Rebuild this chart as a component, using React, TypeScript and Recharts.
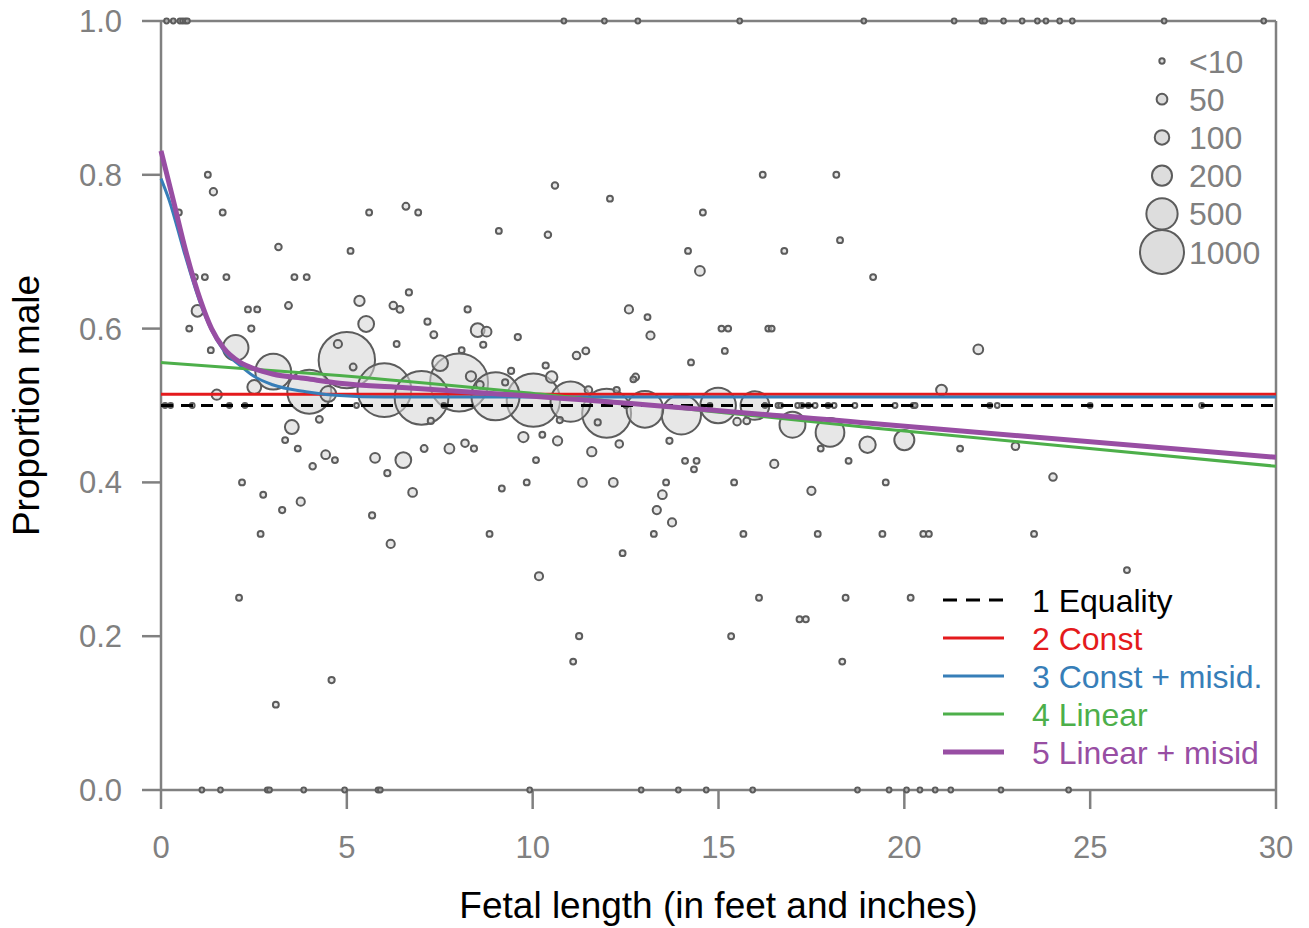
import { ComposedChart, Scatter, Line, XAxis, YAxis, ReferenceLine } from "recharts"

const W = 1309
const H = 928

const GREY = "#808080"
const RED = "#e41a1c"
const BLUE = "#377eb8"
const GREEN = "#4daf4a"
const PURPLE = "#984ea3"

const xTicks = [0, 5, 10, 15, 20, 25, 30]
const yTicks = [0, 0.2, 0.4, 0.6, 0.8, 1.0]

// single specimens sitting at proportion 1, 0 and 0.5
const allMaleX = [0.15, 0.33, 0.51, 0.58, 0.65, 0.71, 10.84, 11.93, 12.83, 15.57, 18.91, 21.34, 22.09, 22.16, 22.67, 23.17, 23.58, 23.81, 24.18, 24.52, 26.99, 29.67]
const allFemaleX = [1.1, 1.6, 2.86, 2.92, 3.84, 4.94, 5.84, 5.9, 9.92, 12.92, 13.92, 14.67, 15.92, 18.74, 19.59, 20.06, 20.42, 20.83, 21.25, 22.6, 24.42]
const halfX = [0.11, 0.26, 0.84, 1.84, 2.26, 5.26, 7.61, 12.51, 14.77, 16.25, 16.6, 16.67, 17.13, 17.24, 17.42, 17.6, 17.95, 18.11, 18.67, 19.75, 20.24, 20.29, 22.3, 22.5, 25.0, 28.0]

// [length, proportion male, n]
const samples: [number, number, number][] = [
  [0.48, 0.751, 8], [1.26, 0.8, 8], [1.41, 0.778, 18], [1.66, 0.751, 8], [3.16, 0.706, 12],
  [5.1, 0.701, 8], [5.6, 0.751, 8], [6.59, 0.759, 15], [6.92, 0.751, 8], [9.09, 0.727, 8],
  [10.41, 0.722, 12], [10.6, 0.786, 12], [12.08, 0.769, 8], [14.18, 0.701, 8], [14.58, 0.751, 8],
  [16.19, 0.8, 8], [16.77, 0.701, 8], [18.17, 0.8, 8], [18.27, 0.715, 8], [14.5, 0.675, 40],
  [19.16, 0.667, 8],
  [0.98, 0.623, 60], [0.91, 0.667, 8], [1.18, 0.667, 8], [1.76, 0.667, 8], [0.76, 0.6, 8],
  [1.34, 0.572, 8], [2.01, 0.575, 330], [1.5, 0.514, 45], [2.34, 0.625, 8], [2.59, 0.625, 8],
  [2.43, 0.6, 10], [3.43, 0.63, 15], [3.59, 0.667, 8], [3.92, 0.667, 8], [3.02, 0.544, 660],
  [2.51, 0.524, 90], [3.99, 0.518, 1000], [3.52, 0.472, 90], [4.26, 0.482, 15], [4.5, 0.515, 120],
  [3.34, 0.455, 8], [3.68, 0.444, 8], [4.08, 0.421, 12], [4.43, 0.436, 30], [4.68, 0.429, 8],
  [2.18, 0.4, 8], [2.75, 0.384, 8], [5.0, 0.559, 1650], [4.76, 0.58, 25], [5.17, 0.55, 15],
  [5.34, 0.636, 45], [5.52, 0.606, 120], [6.01, 0.52, 1500], [6.34, 0.58, 8], [6.67, 0.647, 10],
  [6.25, 0.63, 20], [6.43, 0.625, 15], [7.01, 0.51, 1500], [7.17, 0.609, 10], [7.34, 0.592, 15],
  [7.51, 0.555, 120], [8.02, 0.53, 1750], [8.34, 0.538, 45], [8.58, 0.527, 20], [8.09, 0.572, 8],
  [8.52, 0.598, 90], [8.76, 0.596, 40], [8.25, 0.625, 10], [8.67, 0.579, 10], [9.0, 0.512, 1200],
  [9.26, 0.53, 10], [9.42, 0.545, 10], [9.6, 0.589, 10], [10.02, 0.507, 1480], [9.75, 0.459, 45],
  [10.09, 0.429, 8], [9.84, 0.4, 8], [9.17, 0.392, 8], [7.76, 0.444, 40], [8.18, 0.451, 20],
  [8.42, 0.444, 10], [7.08, 0.444, 15], [6.52, 0.429, 120], [5.76, 0.432, 40], [6.09, 0.412, 10],
  [6.77, 0.387, 30], [7.26, 0.48, 10],
  [3.76, 0.375, 25], [3.26, 0.364, 10], [2.68, 0.333, 8], [5.68, 0.357, 10], [6.18, 0.32, 25],
  [8.84, 0.333, 8], [10.17, 0.278, 25], [11.25, 0.2, 10], [11.09, 0.167, 8], [12.42, 0.308, 8],
  [13.26, 0.333, 8], [13.34, 0.364, 25], [13.75, 0.348, 25], [13.49, 0.384, 30], [2.1, 0.25, 8],
  [4.59, 0.143, 10], [3.09, 0.111, 8],
  [10.35, 0.552, 10], [10.51, 0.537, 60], [11.02, 0.505, 830], [11.5, 0.52, 20], [11.99, 0.49, 1240],
  [11.75, 0.478, 10], [12.26, 0.52, 10], [13.02, 0.495, 690], [14.0, 0.488, 800], [14.99, 0.5, 650],
  [15.98, 0.5, 420], [15.5, 0.479, 20], [15.76, 0.48, 15], [16.99, 0.475, 340], [18.0, 0.465, 420],
  [19.01, 0.449, 130], [20.0, 0.455, 200], [17.75, 0.444, 8], [18.5, 0.428, 8], [16.5, 0.424, 25],
  [10.26, 0.462, 8], [10.67, 0.454, 35], [11.59, 0.44, 35], [12.33, 0.45, 20], [13.68, 0.454, 10],
  [14.1, 0.428, 8], [14.41, 0.428, 8], [14.34, 0.417, 8], [11.34, 0.4, 30], [12.17, 0.4, 30],
  [13.59, 0.4, 8], [15.42, 0.4, 8], [17.5, 0.389, 25], [19.5, 0.4, 8], [12.59, 0.625, 25],
  [13.09, 0.615, 8], [13.17, 0.591, 25], [15.08, 0.6, 8], [15.26, 0.6, 8], [16.34, 0.6, 8],
  [16.43, 0.6, 8], [15.17, 0.571, 8], [14.26, 0.556, 8], [11.18, 0.565, 20], [11.43, 0.571, 15],
  [12.71, 0.534, 8], [12.77, 0.537, 15], [10.73, 0.481, 10],
  [21.0, 0.52, 50], [21.99, 0.573, 40], [21.5, 0.444, 8], [22.99, 0.447, 20], [24.0, 0.407, 20],
  [15.67, 0.333, 8], [17.67, 0.333, 8], [19.41, 0.333, 8], [20.51, 0.333, 8], [20.66, 0.333, 8],
  [23.49, 0.333, 8], [25.99, 0.286, 8], [16.09, 0.25, 8], [18.42, 0.25, 8], [20.17, 0.25, 8],
  [17.18, 0.222, 8], [17.35, 0.222, 8], [15.34, 0.2, 8], [18.33, 0.167, 8],
]

// fitted curves
const equalityX = [0, 30]
const equalityY = [0.5, 0.5]
const constX = [0, 30]
const constY = [0.5145, 0.5145]
const constMisidX = [0, 0.22, 0.62, 1.03, 1.36, 1.68, 2.13, 2.5, 3.0, 3.9, 4.8, 6, 8, 30]
const constMisidY = [0.795, 0.767, 0.7, 0.637, 0.598, 0.572, 0.552, 0.538, 0.527, 0.518, 0.513, 0.511, 0.511, 0.511]
const linearX = [0, 4.8, 10.2, 19.3, 30]
const linearY = [0.556, 0.539, 0.515, 0.47, 0.421]
const linearMisidX = [0, 0.33, 0.66, 1.06, 1.36, 1.68, 2.13, 2.5, 3.0, 3.9, 4.8, 6.6, 10.2, 19.3, 30]
const linearMisidY = [0.831, 0.767, 0.702, 0.637, 0.6, 0.575, 0.556, 0.548, 0.541, 0.535, 0.529, 0.523, 0.5115, 0.476, 0.4326]

const sizeLegendN = [5, 50, 100, 200, 500, 1000]
const sizeLegendLabels = ["<10", "50", "100", "200", "500", "1000"]

const toXY = (xs: number[], ys: number[]) => xs.map((x, i) => ({ x, y: ys[i] }))

const points = [
  ...allMaleX.map((x) => ({ x, y: 1, n: 2 })),
  ...allFemaleX.map((x) => ({ x, y: 0, n: 2 })),
  ...halfX.map((x) => ({ x, y: 0.5, n: 2 })),
  ...samples.map(([x, y, n]) => ({ x, y, n })),
].sort((a, b) => b.n - a.n)

const radius = (n: number) => Math.sqrt((15 + 1.505 * n) / Math.PI)

function Bubble(props: any) {
  const { cx, cy, payload } = props
  if (cx == null || cy == null) return <g />
  return (
    <circle
      cx={cx}
      cy={cy}
      r={radius(payload.n)}
      fill="#d4d4d4"
      fillOpacity={0.55}
      stroke="#5c5c5c"
      strokeWidth={2}
    />
  )
}

const FONT = "'Liberation Sans', Arial, Helvetica, sans-serif"
const tickStyle = { fill: GREY, fontSize: 31, fontFamily: FONT }

const legendRows = [
  { label: "1 Equality", color: "#000000", width: 3, dash: "14 9" },
  { label: "2 Const", color: RED, width: 3, dash: undefined },
  { label: "3 Const + misid.", color: BLUE, width: 3, dash: undefined },
  { label: "4 Linear", color: GREEN, width: 3, dash: undefined },
  { label: "5 Linear + misid", color: PURPLE, width: 5, dash: undefined },
]

// keep the fitted curves above the bubbles
const lineLayer: any = { zIndex: 700 }

export default function App() {
  return (
    <div style={{ position: "absolute", left: 0, top: 0, width: W, height: H, background: "#fff" }}>
      <ComposedChart width={W} height={H} margin={{ top: 21, right: 33, bottom: 0, left: 0 }}>
        <XAxis
          type="number"
          dataKey="x"
          domain={[0, 30]}
          ticks={xTicks}
          interval={0}
          height={138}
          tickSize={19}
          tickMargin={27}
          stroke={GREY}
          strokeWidth={2.5}
          tick={tickStyle}
        />
        <YAxis
          type="number"
          dataKey="y"
          domain={[0, 1]}
          ticks={yTicks}
          interval={0}
          width={161}
          tickSize={19}
          tickMargin={20}
          stroke={GREY}
          strokeWidth={2.5}
          tick={tickStyle}
          tickFormatter={(v: number) => v.toFixed(1)}
        />
        <ReferenceLine y={1} stroke={GREY} strokeWidth={2.5} />
        <ReferenceLine x={30} stroke={GREY} strokeWidth={2.5} />
        <Scatter data={points} shape={Bubble} isAnimationActive={false} />
        <Line {...lineLayer} data={toXY(equalityX, equalityY)} dataKey="y" type="linear" stroke="#000" strokeWidth={3} strokeDasharray="12 8" dot={false} activeDot={false} isAnimationActive={false} />
        <Line {...lineLayer} data={toXY(constX, constY)} dataKey="y" type="linear" stroke={RED} strokeWidth={3} dot={false} activeDot={false} isAnimationActive={false} />
        <Line {...lineLayer} data={toXY(constMisidX, constMisidY)} dataKey="y" type="monotone" stroke={BLUE} strokeWidth={3} dot={false} activeDot={false} isAnimationActive={false} />
        <Line {...lineLayer} data={toXY(linearX, linearY)} dataKey="y" type="monotone" stroke={GREEN} strokeWidth={3} dot={false} activeDot={false} isAnimationActive={false} />
        <Line {...lineLayer} data={toXY(linearMisidX, linearMisidY)} dataKey="y" type="monotone" stroke={PURPLE} strokeWidth={5} dot={false} activeDot={false} isAnimationActive={false} />
      </ComposedChart>
      <svg width={W} height={H} style={{ position: "absolute", left: 0, top: 0, pointerEvents: "none" }} fontFamily={FONT}>
        <text x={718.5} y={918} textAnchor="middle" fontSize={37} fill="#000">Fetal length (in feet and inches)</text>
        <text transform="translate(39,405.5) rotate(-90)" textAnchor="middle" fontSize={37} fill="#000">Proportion male</text>
        {sizeLegendN.map((n, i) => {
          const cy = 61 + i * 38.2
          return (
            <g key={n}>
              <circle cx={1162} cy={cy} r={radius(n)} fill="#d4d4d4" fillOpacity={0.8} stroke="#5c5c5c" strokeWidth={2} />
              <text x={1189} y={cy + 11.5} fontSize={32} fill={GREY}>{sizeLegendLabels[i]}</text>
            </g>
          )
        })}
        {legendRows.map((row, i) => {
          const y = 600 + i * 38
          return (
            <g key={row.label}>
              <line x1={943} x2={1004} y1={y} y2={y} stroke={row.color} strokeWidth={row.width} strokeDasharray={row.dash} />
              <text x={1032} y={y + 11.5} fontSize={32} fill={row.color}>{row.label}</text>
            </g>
          )
        })}
      </svg>
    </div>
  )
}
